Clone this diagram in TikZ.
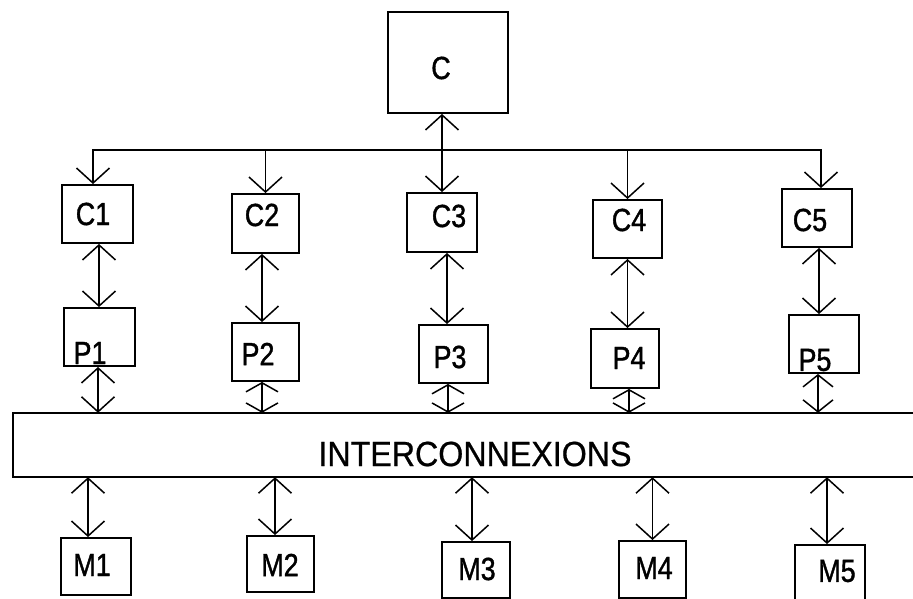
\documentclass[tikz,border=0pt]{standalone}
\usepackage{fontspec}
\setmainfont{Liberation Sans}[FakeStretch=0.84,FakeBold=1.2]
\newfontfamily\busfont{Liberation Sans}[FakeStretch=0.92,FakeBold=0.6]
\usetikzlibrary{arrows.meta}
\begin{document}
\begin{tikzpicture}[x=1pt,y=-1pt,
  >={Straight Barb[length=15pt,width=33pt]},
  box/.style={draw,line width=1.9pt,inner sep=0pt},
  lbl/.style={inner sep=0pt,font=\fontsize{32}{36}\selectfont},
  link/.style={line width=1.5pt},
  shortlink/.style={line width=1.5pt,{Straight Barb[length=9pt,width=32pt]}-{Straight Barb[length=9pt,width=32pt]}}]
\useasboundingbox (0,0) rectangle (913,599);
% top controller
\node[box,minimum width=120pt,minimum height=101pt] (C) at (448,62.5) {};
\node[lbl] (tC) at (441,68) {C};
% C row
\node[box,minimum width=71pt,minimum height=58pt] (C1) at (97.5,214) {};
\node[box,minimum width=67pt,minimum height=59pt] (C2) at (265.5,223.5) {};
\node[box,minimum width=70pt,minimum height=59pt] (C3) at (442,222.5) {};
\node[box,minimum width=69pt,minimum height=58pt] (C4) at (627.5,229) {};
\node[box,minimum width=70pt,minimum height=58pt] (C5) at (817,218) {};
\node[lbl] (tC1) at (93,214) {C1};
\node[lbl] (tC2) at (262,215) {C2};
\node[lbl] (tC3) at (449,216) {C3};
\node[lbl] (tC4) at (629,220) {C4};
\node[lbl] (tC5) at (810,220) {C5};
% P row
\node[box,minimum width=71pt,minimum height=58pt] (P1) at (99.5,337) {};
\node[box,minimum width=67pt,minimum height=58pt] (P2) at (265.5,352) {};
\node[box,minimum width=69pt,minimum height=58pt] (P3) at (453.5,354) {};
\node[box,minimum width=68pt,minimum height=59pt] (P4) at (625,358.5) {};
\node[box,minimum width=70pt,minimum height=58pt] (P5) at (824,344) {};
\node[lbl] (tP1) at (90,353) {P1};
\node[lbl] (tP2) at (258,354) {P2};
\node[lbl] (tP3) at (450,357) {P3};
\node[lbl] (tP4) at (629,358) {P4};
\node[lbl] (tP5) at (815,360) {P5};
% interconnection bus
\node[inner sep=0pt,minimum width=900pt,minimum height=64pt] (bus) at (463,445) {};
\draw[line width=1.9pt] (bus.north east) -- (bus.north west) -- (bus.south west) -- (bus.south east);
\node[inner sep=0pt,font=\busfont\fontsize{35}{40}\selectfont] (tbus) at (475,454) {INTERCONNEXIONS};
% M row
\node[box,minimum width=70pt,minimum height=57pt] (M1) at (96,566.5) {};
\node[box,minimum width=67pt,minimum height=56pt] (M2) at (280.5,564) {};
\node[box,minimum width=68pt,minimum height=56pt] (M3) at (476,570) {};
\node[box,minimum width=67pt,minimum height=57pt] (M4) at (652.5,569.5) {};
\node[box,minimum width=70pt,minimum height=56pt] (M5) at (830,573) {};
\node[lbl] (tM1) at (92,565) {M1};
\node[lbl] (tM2) at (280,565) {M2};
\node[lbl] (tM3) at (477,569) {M3};
\node[lbl] (tM4) at (654,568) {M4};
\node[lbl] (tM5) at (837,571) {M5};
% C to C_i
\coordinate (hub) at (442,150);
\draw[link,<->] (C3.north |- C.south) -- (C3.north);
\draw[link,->] (hub) -| ([xshift=-4.5pt]C1.north);
\draw[link,->] (hub) -| ([xshift=4pt]C5.north);
\draw[link,->] (C2.north |- hub) -- (C2.north);
\draw[link,->] (C4.north |- hub) -- (C4.north);
% C_i to P_i
\draw[link,<->] ([xshift=1.5pt]C1.south) -- ([xshift=1.5pt]C1.south |- P1.north);
\draw[link,<->] ([xshift=-3.5pt]C2.south) -- ([xshift=-3.5pt]C2.south |- P2.north);
\draw[link,<->] ([xshift=5pt]C3.south) -- ([xshift=5pt]C3.south |- P3.north);
\draw[link,<->] (C4.south) -- (C4.south |- P4.north);
\draw[link,<->] ([xshift=2pt]C5.south) -- ([xshift=2pt]C5.south |- P5.north);
% P_i to bus
\draw[link,<->] ([xshift=-1.5pt]P1.south) -- ([xshift=-1.5pt]P1.south |- bus.north);
\draw[shortlink] ([xshift=-3.5pt]P2.south) -- ([xshift=-3.5pt]P2.south |- bus.north);
\draw[shortlink] ([xshift=-5.5pt]P3.south) -- ([xshift=-5.5pt]P3.south |- bus.north);
\draw[shortlink] ([xshift=4pt]P4.south) -- ([xshift=4pt]P4.south |- bus.north);
\draw[link,{Straight Barb[length=12pt,width=30pt]}-{Straight Barb[length=12pt,width=30pt]}] ([xshift=-6pt]P5.south) -- ([xshift=-6pt]P5.south |- bus.north);
% bus to M_i
\draw[link,<->] ([xshift=-8pt]M1.north |- bus.south) -- ([xshift=-8pt]M1.north);
\draw[link,<->] ([xshift=-5.5pt]M2.north |- bus.south) -- ([xshift=-5.5pt]M2.north);
\draw[link,<->] ([xshift=-4pt]M3.north |- bus.south) -- ([xshift=-4pt]M3.north);
\draw[link,<->] (M4.north |- bus.south) -- (M4.north);
\draw[link,<->] ([xshift=-3pt]M5.north |- bus.south) -- ([xshift=-3pt]M5.north);
\end{tikzpicture}
\end{document}
